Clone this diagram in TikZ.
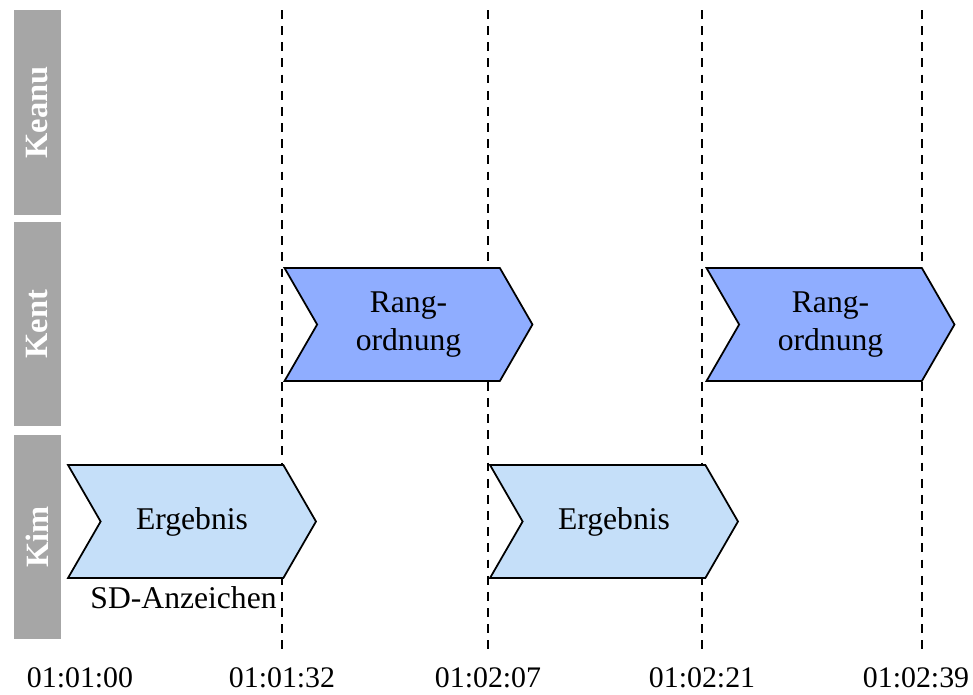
\documentclass[tikz,border=0pt]{standalone}
\usepackage{fontspec}
\setmainfont{Liberation Serif}
\usetikzlibrary{positioning,shapes.symbols}

\definecolor{lanegray}{HTML}{A6A6A6}
\definecolor{ergblue}{HTML}{C5DFF9}
\definecolor{rangblue}{HTML}{8FADFF}

\tikzset{
    lane/.style={rectangle,fill=lanegray,text=white,rotate=90,
        minimum width=4.1cm,minimum height=0.94cm,inner sep=0pt,
        font=\fontsize{18.5}{20}\selectfont\bfseries},
    task/.style={signal,signal from=west,signal to=east,signal pointer angle=120,
        draw=black,line width=1pt,minimum width=4.96cm,minimum height=2.26cm,
        inner sep=0pt,align=center,font=\fontsize{18}{22}\selectfont},
    ergebnis/.style={task,fill=ergblue},
    rang/.style={task,fill=rangblue},
    tick/.style={dash pattern=on 5pt off 4.2pt,line width=1.1pt},
    stamp/.style={font=\fontsize{17}{19}\selectfont}
}

\begin{document}
\begin{tikzpicture}[x=0.02cm,y=-0.02cm]
    \useasboundingbox (0,0) rectangle (973,694);

    % lanes
    \node[lane] (keanu) at (37.5,112.5) {Keanu};
    \node[lane] (kent)  at (37.5,324)   {Kent};
    \node[lane] (kim)   at (37.5,537)   {Kim};

    % time marks
    \coordinate (t1) at (282,10);
    \coordinate (t2) at (488,10);
    \coordinate (t3) at (702,10);
    \coordinate (t4) at (922,10);
    \foreach \t in {t1,t2,t3,t4}
        \draw[tick] (\t) -- ++(0,640);

    \node[stamp] (s0) at (80,678)  {01:01:00};
    \node[stamp] (s1) at (282,678) {01:01:32};
    \node[stamp] (s2) at (488,678) {01:02:07};
    \node[stamp] (s3) at (702,678) {01:02:21};
    \node[stamp] (s4) at (916,678) {01:02:39};

    % activities
    \node[ergebnis] (erg1)  at (192,521.5)   {Ergebnis};
    \node[rang]     (rang1) at (408.5,324.5) {Rang-\\ordnung};
    \node[ergebnis] (erg2)  at (614,521.5)   {Ergebnis};
    \node[rang]     (rang2) at (830.5,324.5) {Rang-\\ordnung};

    \node[anchor=north east,inner sep=0pt,font=\fontsize{18}{20}\selectfont]
        (sd) at (277,586) {SD-Anzeichen};
\end{tikzpicture}
\end{document}
